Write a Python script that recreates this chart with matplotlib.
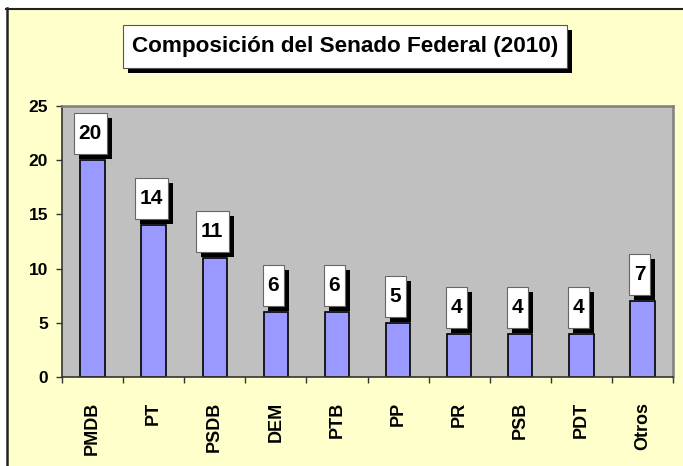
import matplotlib.pyplot as plt
from matplotlib.patches import Rectangle
from matplotlib.lines import Line2D
import matplotlib.transforms as mtransforms

partidos = ['PMDB', 'PT', 'PSDB', 'DEM', 'PTB', 'PP', 'PR', 'PSB', 'PDT', 'Otros']
senadores = [20, 14, 11, 6, 6, 5, 4, 4, 4, 7]
titulo = 'Composición del Senado Federal (2010)'

W, H = 683, 466
plt.rcParams['font.family'] = ['Liberation Sans', 'DejaVu Sans']

fig = plt.figure(figsize=(W / 100, H / 100), dpi=100, facecolor='white')

# fondo amarillo y marco (solo arriba e izquierda, la imagen esta recortada)
fig.patches.append(Rectangle((7 / W, 0), 1, 1 - 8 / H, transform=fig.transFigure,
                             facecolor='#FFFFCC', edgecolor='none', zorder=-1))
fig.lines.append(Line2D([6.5 / W, 6.5 / W], [0, 1 - 8 / H], transform=fig.transFigure,
                        color='#222222', lw=1.8))
fig.lines.append(Line2D([6 / W, 1], [1 - 8.5 / H, 1 - 8.5 / H], transform=fig.transFigure,
                        color='#222222', lw=1.5))

# caja del titulo con sombra
bx0, bx1, by0, by1 = 123, 567, 25, 68
fig.patches.append(Rectangle(((bx0 + 5) / W, 1 - (by1 + 5) / H), (bx1 - bx0) / W, (by1 - by0) / H,
                             transform=fig.transFigure, facecolor='black', edgecolor='none', zorder=1))
fig.patches.append(Rectangle((bx0 / W, 1 - by1 / H), (bx1 - bx0) / W, (by1 - by0) / H,
                             transform=fig.transFigure, facecolor='white', edgecolor='#555555',
                             lw=0.8, zorder=2))
fig.text((bx0 + bx1) / 2 / W, 1 - (by0 + by1) / 2 / H, titulo, ha='center', va='center',
         fontsize=16.2, fontweight='bold', zorder=3)

ax = fig.add_axes([62 / W, (H - 377) / H, 611 / W, 271 / H])
ax.set_facecolor('#C0C0C0')

x = list(range(len(partidos)))
ax.bar(x, senadores, width=0.4, color='#9999FF', edgecolor='black', linewidth=1.2, zorder=2)

ax.set_xlim(-0.5, len(partidos) - 0.5)
ax.set_ylim(0, 25)
ax.set_yticks([0, 5, 10, 15, 20, 25])
ax.set_xticks(x)
ax.set_xticklabels(partidos, rotation=90, fontsize=13, fontweight='bold')
ax.set_xticks([i - 0.5 for i in range(len(partidos) + 1)], minor=True)
ax.tick_params(axis='x', which='major', length=0, pad=18)
ax.tick_params(axis='x', which='minor', length=4, width=1, color='#333333')
ax.tick_params(axis='y', length=4, width=1, color='#333333', pad=6)
for lbl in ax.get_yticklabels():
    lbl.set_fontsize(12.5)
    lbl.set_fontweight('bold')

ax.spines['left'].set_color('#333333')
ax.spines['bottom'].set_color('#333333')
ax.spines['left'].set_linewidth(1.2)
ax.spines['bottom'].set_linewidth(1.2)
ax.spines['top'].set_color('#808080')
ax.spines['right'].set_color('#808080')
ax.spines['top'].set_linewidth(1.8)
ax.spines['right'].set_linewidth(1.8)

# etiquetas de valor en cajas blancas con sombra negra
px = 0.01  # un pixel en pulgadas (dpi=100)
for xi, v in zip(x, senadores):
    trans = fig.dpi_scale_trans + mtransforms.ScaledTranslation(xi, v, ax.transData)
    w = 21 if v < 10 else 33
    h = 41
    left = -w / 2 - 2.5
    bottom = 6
    ax.add_patch(Rectangle(((left + 5) * px, (bottom - 5) * px), w * px, h * px, transform=trans,
                           facecolor='black', edgecolor='none', zorder=3, clip_on=False))
    ax.add_patch(Rectangle((left * px, bottom * px), w * px, h * px, transform=trans,
                           facecolor='white', edgecolor='#666666', lw=0.8, zorder=4, clip_on=False))
    ax.text((left + w / 2) * px, (bottom + h / 2) * px, str(v), transform=trans,
            ha='center', va='center', fontsize=15, fontweight='bold', zorder=5)

fig.savefig('out.png', dpi=100, facecolor='white')
